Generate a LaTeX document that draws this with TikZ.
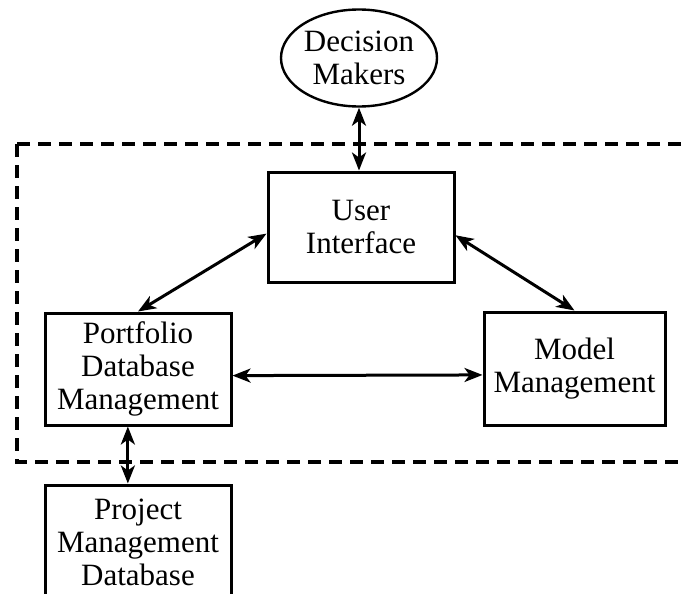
\documentclass[tikz,border=0pt]{standalone}
\usepackage{fontspec}
\setmainfont{Liberation Serif}
\usetikzlibrary{arrows.meta,shapes.geometric}

\begin{document}
\begin{tikzpicture}[x=0.5pt,y=-0.5pt,line width=1.5pt,>={Stealth[length=9pt,width=7pt,inset=2.5pt]},
  blk/.style={draw,rectangle,align=center,inner sep=0pt,font=\fontsize{15.5}{16.5}\selectfont},
  dm/.style={draw,ellipse,align=center,inner sep=0pt,minimum width=78pt,minimum height=48.5pt,line width=1.2pt,font=\fontsize{15.5}{16.5}\selectfont},
  sys/.style={line width=1.7pt,dash pattern=on 6.5pt off 4pt}]
\useasboundingbox (0,0) rectangle (681,594);
\clip (0,0) rectangle (681,594);
\draw[sys] (17,144) -- (700,144);
\draw[sys] (17,144) -- (17,462) -- (700,462);
\node[dm] (dmk) at (359,58) {Decision\\Makers};
\node[blk,minimum width=93pt,minimum height=55pt] (ui) at (361,227) {User\\Interface};
\node[blk,minimum width=93pt,minimum height=56pt] (pf) at (138,369) {Portfolio\\Database\\Management};
\node[blk,minimum width=90.5pt,minimum height=56.5pt] (mm) at (574.5,368.5) {Model\\Management};
\node[blk,minimum width=93pt,minimum height=57pt] (pd) at (138,542) {Project\\Management\\Database};
\draw[<->] (dmk.south) -- (dmk.south |- ui.north);
\draw[<->] (ui.184) -- (pf.north);
\draw[<->] (ui.-5) -- (mm.north);
\draw[<->] (pf.-4) -- (mm.184);
\draw[<->] (pf.260) -- (pf.260 |- pd.north);
\end{tikzpicture}
\end{document}
